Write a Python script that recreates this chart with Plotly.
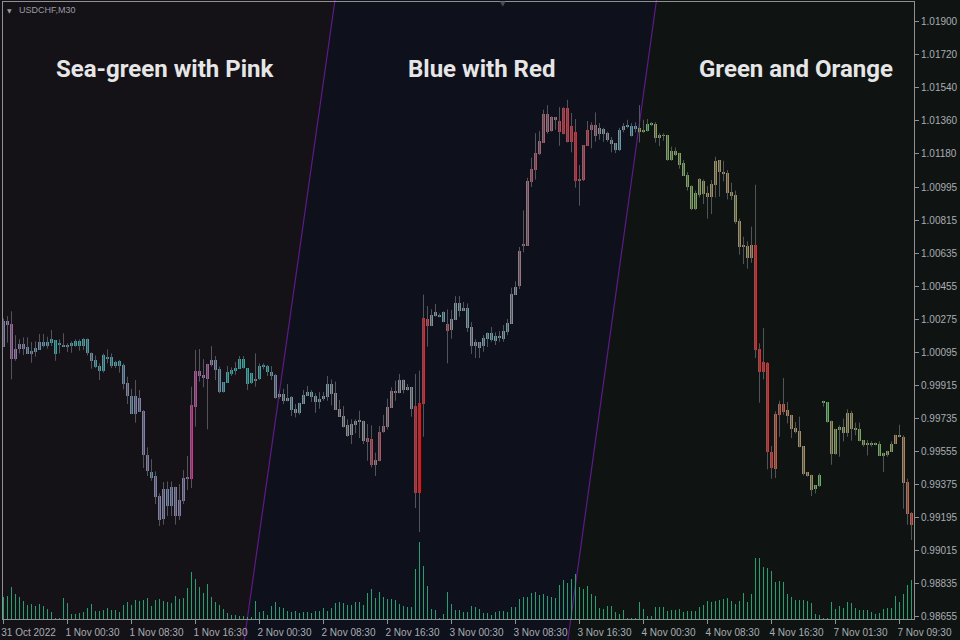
import plotly.graph_objects as go
from plotly.colors import sample_colorscale

# ---------------- data (USDCHF, M30) ----------------
open_ = [1.00127, 1.00265, 1.00250, 1.00061, 1.00112, 1.00141, 1.00127, 1.00087, 1.00098, 1.00109,
         1.00152, 1.00130, 1.00145, 1.00163, 1.00138, 1.00127, 1.00127, 1.00130, 1.00130, 1.00156,
         1.00130, 1.00170, 1.00094, 1.00054, 1.00021, 0.99992, 1.00072, 1.00068, 1.00021, 1.00050,
         1.00028, 0.99927, 0.99857, 0.99759, 0.99846, 0.99774, 0.99533, 0.99442, 0.99421, 0.99311,
         0.99188, 0.99351, 0.99257, 0.99362, 0.99202, 0.99286, 0.99410, 0.99406, 0.99799, 0.99994,
         0.99972, 0.99950, 1.00028, 1.00054, 1.00007, 0.99879, 0.99930, 0.99977, 0.99992, 1.00007,
         1.00061, 1.00010, 0.99930, 0.99945, 0.99948, 1.00018, 1.00021, 0.99988, 0.99974, 0.99854,
         0.99868, 0.99828, 0.99854, 0.99788, 0.99766, 0.99814, 0.99857, 0.99879, 0.99857, 0.99825,
         0.99839, 0.99850, 0.99923, 0.99872, 0.99788, 0.99748, 0.99697, 0.99646, 0.99701, 0.99723,
         0.99723, 0.99628, 0.99621, 0.99479, 0.99504, 0.99661, 0.99690, 0.99792, 0.99887, 0.99876,
         0.99945, 0.99890, 0.99908, 0.99803, 0.99330, 0.99814, 1.00280, 1.00240, 1.00294, 1.00301,
         1.00316, 1.00251, 1.00218, 1.00272, 1.00367, 1.00323, 1.00338, 1.00236, 1.00130, 1.00152,
         1.00129, 1.00169, 1.00201, 1.00158, 1.00176, 1.00169, 1.00209, 1.00252, 1.00409, 1.00460,
         1.00678, 1.00678, 1.01028, 1.01093, 1.01177, 1.01239, 1.01399, 1.01304, 1.01381, 1.01359,
         1.01290, 1.01432, 1.01242, 1.01301, 1.01042, 1.01039, 1.01224, 1.01312, 1.01337, 1.01286,
         1.01315, 1.01293, 1.01253, 1.01239, 1.01202, 1.01308, 1.01326, 1.01330, 1.01315, 1.01319,
         1.01297, 1.01304, 1.01341, 1.01343, 1.01266, 1.01281, 1.01284, 1.01146, 1.01197, 1.01186,
         1.01131, 1.01066, 1.01004, 1.00877, 1.00957, 1.01033, 1.00968, 1.00946, 1.01011, 1.01146,
         1.01080, 1.01077, 1.00971, 1.00957, 1.00815, 1.00673, 1.00676, 1.00611, 1.00684, 1.00116,
         0.99988, 1.00039, 0.99552, 0.99461, 0.99755, 0.99814, 0.99781, 0.99755, 0.99683, 0.99668,
         0.99584, 0.99442, 0.99428, 0.99351, 0.99366, 0.99825, 0.99825, 0.99723, 0.99541, 0.99672,
         0.99690, 0.99657, 0.99763, 0.99675, 0.99679, 0.99617, 0.99592, 0.99603, 0.99592, 0.99595,
         0.99530, 0.99537, 0.99552, 0.99595, 0.99639, 0.99635, 0.99388, 0.99220]

high = [1.00281, 1.00294, 1.00320, 1.00190, 1.00167, 1.00178, 1.00178, 1.00152, 1.00156, 1.00196,
        1.00196, 1.00181, 1.00218, 1.00163, 1.00167, 1.00200, 1.00145, 1.00156, 1.00167, 1.00167,
        1.00174, 1.00172, 1.00095, 1.00079, 1.00036, 1.00090, 1.00112, 1.00090, 1.00050, 1.00054,
        1.00036, 0.99963, 0.99897, 0.99945, 0.99890, 0.99781, 0.99577, 0.99512, 0.99446, 0.99326,
        0.99388, 0.99391, 0.99391, 0.99362, 0.99377, 0.99453, 0.99530, 0.99908, 1.00109, 1.00114,
        1.00059, 1.00034, 1.00130, 1.00076, 1.00018, 0.99934, 1.00021, 1.00014, 1.00043, 1.00076,
        1.00076, 1.00010, 0.99985, 1.00090, 1.00036, 1.00036, 1.00028, 1.00021, 0.99978, 0.99890,
        0.99897, 0.99923, 0.99857, 0.99814, 0.99821, 0.99890, 0.99912, 0.99890, 0.99872, 0.99879,
        0.99879, 0.99967, 0.99948, 0.99937, 0.99836, 0.99803, 0.99730, 0.99730, 0.99730, 0.99777,
        0.99723, 0.99705, 0.99697, 0.99548, 0.99694, 0.99755, 0.99843, 0.99905, 0.99941, 0.99978,
        0.99948, 0.99923, 0.99908, 0.99978, 0.99996, 1.00411, 1.00349, 1.00331, 1.00360, 1.00309,
        1.00320, 1.00331, 1.00327, 1.00403, 1.00403, 1.00371, 1.00363, 1.00261, 1.00167, 1.00152,
        1.00190, 1.00205, 1.00234, 1.00205, 1.00212, 1.00245, 1.00278, 1.00449, 1.00485, 1.00671,
        1.00871, 1.01049, 1.01159, 1.01293, 1.01304, 1.01421, 1.01446, 1.01385, 1.01381, 1.01435,
        1.01435, 1.01475, 1.01403, 1.01370, 1.01119, 1.01228, 1.01359, 1.01352, 1.01406, 1.01348,
        1.01322, 1.01301, 1.01272, 1.01239, 1.01322, 1.01348, 1.01366, 1.01348, 1.01352, 1.01446,
        1.01366, 1.01370, 1.01353, 1.01353, 1.01292, 1.01292, 1.01284, 1.01219, 1.01215, 1.01186,
        1.01146, 1.01080, 1.01008, 1.00979, 1.01048, 1.01040, 1.01004, 1.01037, 1.01164, 1.01146,
        1.01142, 1.01091, 1.01022, 1.00979, 1.00826, 1.00727, 1.00702, 1.00782, 1.01011, 1.00145,
        1.00229, 1.00043, 0.99584, 0.99774, 0.99832, 0.99956, 0.99825, 0.99755, 0.99715, 0.99745,
        0.99584, 0.99442, 0.99428, 0.99370, 0.99435, 0.99832, 0.99825, 0.99723, 0.99679, 0.99697,
        0.99734, 0.99785, 0.99777, 0.99712, 0.99712, 0.99617, 0.99617, 0.99610, 0.99603, 0.99610,
        0.99548, 0.99559, 0.99610, 0.99646, 0.99701, 0.99643, 0.99406, 0.99224]

low = [1.00126, 1.00149, 0.99948, 1.00050, 1.00090, 1.00081, 1.00087, 1.00039, 1.00072, 1.00109,
       1.00123, 1.00116, 1.00130, 1.00050, 1.00090, 1.00127, 1.00098, 1.00094, 1.00127, 1.00105,
       1.00109, 1.00079, 1.00007, 1.00010, 0.99945, 0.99985, 1.00036, 1.00010, 1.00010, 0.99985,
       0.99894, 0.99814, 0.99759, 0.99712, 0.99770, 0.99464, 0.99421, 0.99395, 0.99268, 0.99148,
       0.99155, 0.99202, 0.99202, 0.99155, 0.99180, 0.99268, 0.99344, 0.99355, 0.99690, 0.99936,
       0.99905, 0.99675, 1.00018, 0.99945, 0.99872, 0.99876, 0.99930, 0.99967, 0.99974, 1.00007,
       1.00007, 0.99890, 0.99923, 0.99908, 0.99945, 1.00003, 0.99967, 0.99945, 0.99843, 0.99843,
       0.99814, 0.99828, 0.99748, 0.99741, 0.99755, 0.99814, 0.99857, 0.99825, 0.99766, 0.99788,
       0.99832, 0.99832, 0.99806, 0.99781, 0.99745, 0.99686, 0.99635, 0.99595, 0.99654, 0.99628,
       0.99595, 0.99504, 0.99468, 0.99421, 0.99501, 0.99657, 0.99675, 0.99792, 0.99832, 0.99872,
       0.99872, 0.99887, 0.99745, 0.99246, 0.99115, 0.99635, 1.00127, 1.00240, 1.00291, 1.00287,
       1.00261, 1.00036, 1.00170, 1.00272, 1.00291, 1.00323, 1.00207, 1.00087, 1.00065, 1.00065,
       1.00099, 1.00125, 1.00154, 1.00136, 1.00154, 1.00154, 1.00190, 1.00252, 1.00409, 1.00442,
       1.00642, 1.00678, 1.00999, 1.01039, 1.01173, 1.01239, 1.01290, 1.01301, 1.01312, 1.01224,
       1.01286, 1.01242, 1.01188, 1.00995, 1.00897, 1.01031, 1.01224, 1.01210, 1.01246, 1.01257,
       1.01246, 1.01246, 1.01188, 1.01184, 1.01195, 1.01297, 1.01319, 1.01275, 1.01297, 1.01242,
       1.01293, 1.01301, 1.01332, 1.01241, 1.01222, 1.01252, 1.01142, 1.01142, 1.01168, 1.01099,
       1.01059, 1.00979, 1.00873, 1.00873, 1.00942, 1.00906, 1.00826, 1.00851, 1.00942, 1.00946,
       1.01029, 1.00931, 1.00928, 1.00797, 1.00629, 1.00578, 1.00553, 1.00585, 1.00065, 0.99821,
       0.99948, 0.99457, 0.99406, 0.99410, 0.99635, 0.99755, 0.99708, 0.99628, 0.99654, 0.99577,
       0.99424, 0.99417, 0.99311, 0.99326, 0.99362, 0.99799, 0.99712, 0.99482, 0.99537, 0.99526,
       0.99610, 0.99635, 0.99614, 0.99643, 0.99610, 0.99581, 0.99533, 0.99581, 0.99588, 0.99530,
       0.99442, 0.99526, 0.99552, 0.99595, 0.99632, 0.99242, 0.99155, 0.99071]

close = [1.00269, 1.00247, 1.00061, 1.00112, 1.00141, 1.00112, 1.00087, 1.00105, 1.00119, 1.00152,
         1.00130, 1.00152, 1.00167, 1.00087, 1.00149, 1.00130, 1.00138, 1.00149, 1.00159, 1.00130,
         1.00170, 1.00090, 1.00050, 1.00014, 0.99996, 1.00079, 1.00065, 1.00021, 1.00043, 1.00021,
         0.99923, 0.99857, 0.99759, 0.99857, 0.99770, 0.99533, 0.99450, 0.99410, 0.99308, 0.99180,
         0.99348, 0.99257, 0.99362, 0.99202, 0.99290, 0.99410, 0.99406, 0.99810, 0.99994, 0.99968,
         0.99957, 1.00034, 1.00054, 0.99999, 0.99879, 0.99934, 0.99988, 0.99999, 1.00010, 1.00061,
         1.00010, 0.99923, 0.99985, 0.99948, 1.00021, 1.00028, 0.99988, 0.99967, 0.99846, 0.99868,
         0.99832, 0.99846, 0.99781, 0.99766, 0.99821, 0.99865, 0.99879, 0.99854, 0.99825, 0.99843,
         0.99857, 0.99923, 0.99868, 0.99781, 0.99745, 0.99690, 0.99639, 0.99705, 0.99723, 0.99717,
         0.99614, 0.99606, 0.99482, 0.99508, 0.99661, 0.99694, 0.99799, 0.99887, 0.99876, 0.99945,
         0.99890, 0.99908, 0.99788, 0.99330, 0.99821, 1.00283, 1.00240, 1.00301, 1.00316, 1.00291,
         1.00261, 1.00214, 1.00276, 1.00367, 1.00320, 1.00338, 1.00229, 1.00130, 1.00152, 1.00119,
         1.00172, 1.00201, 1.00161, 1.00183, 1.00187, 1.00212, 1.00256, 1.00412, 1.00453, 1.00649,
         1.00682, 1.01031, 1.01097, 1.01184, 1.01250, 1.01399, 1.01301, 1.01381, 1.01366, 1.01297,
         1.01432, 1.01242, 1.01330, 1.01031, 1.01035, 1.01228, 1.01308, 1.01337, 1.01279, 1.01319,
         1.01290, 1.01257, 1.01235, 1.01202, 1.01308, 1.01330, 1.01337, 1.01279, 1.01330, 1.01297,
         1.01312, 1.01341, 1.01346, 1.01266, 1.01284, 1.01279, 1.01146, 1.01197, 1.01175, 1.01120,
         1.01059, 1.00997, 1.00877, 1.00964, 1.01040, 1.00960, 1.00946, 1.01015, 1.01142, 1.01080,
         1.01070, 1.00968, 1.00949, 1.00807, 1.00673, 1.00676, 1.00611, 1.00684, 1.00109, 0.99988,
         1.00043, 0.99552, 0.99464, 0.99759, 0.99814, 0.99770, 0.99748, 0.99679, 0.99661, 0.99581,
         0.99432, 0.99421, 0.99344, 0.99370, 0.99428, 0.99828, 0.99715, 0.99541, 0.99679, 0.99690,
         0.99657, 0.99763, 0.99675, 0.99683, 0.99610, 0.99588, 0.99603, 0.99592, 0.99603, 0.99530,
         0.99548, 0.99559, 0.99595, 0.99643, 0.99635, 0.99384, 0.99213, 0.99151]

tick_volume = [66, 69, 96, 75, 66, 54, 42, 45, 39, 45, 39, 30, 21, 3, 3, 63, 48, 15, 15, 18,
               21, 33, 45, 24, 24, 27, 33, 27, 27, 21, 42, 51, 42, 57, 54, 57, 63, 39, 57, 60,
               54, 51, 48, 69, 60, 63, 93, 141, 120, 96, 78, 105, 66, 51, 42, 30, 18, 12, 12, 9,
               9, 6, 6, 54, 21, 24, 12, 39, 51, 36, 33, 24, 21, 24, 18, 21, 21, 18, 24, 24,
               33, 24, 33, 48, 51, 48, 42, 42, 51, 51, 42, 78, 90, 63, 81, 66, 60, 60, 57, 45,
               39, 36, 36, 150, 231, 159, 99, 30, 27, 3, 15, 81, 45, 27, 27, 21, 21, 39, 36, 30,
               18, 18, 12, 21, 23, 24, 21, 36, 36, 60, 66, 66, 78, 81, 72, 75, 69, 67, 63, 102,
               117, 109, 120, 135, 96, 90, 99, 75, 69, 33, 30, 39, 39, 21, 15, 27, 3, 2, 2, 51,
               30, 9, 9, 36, 35, 35, 24, 27, 27, 30, 21, 24, 24, 24, 36, 42, 54, 51, 54, 57,
               60, 63, 54, 45, 55, 78, 51, 75, 183, 183, 156, 153, 144, 111, 114, 111, 75, 66, 57, 57,
               57, 54, 48, 15, 11, 2, 2, 51, 30, 39, 33, 51, 47, 33, 27, 27, 27, 21, 15, 18,
               30, 33, 33, 69, 51, 74, 102, 117]

time_labels = ["31 Oct 2022", "1 Nov 00:30", "1 Nov 08:30", "1 Nov 16:30", "2 Nov 00:30",
               "2 Nov 08:30", "2 Nov 16:30", "3 Nov 00:30", "3 Nov 08:30", "3 Nov 16:30",
               "4 Nov 00:30", "4 Nov 08:30", "4 Nov 16:30", "7 Nov 01:30", "7 Nov 09:30"]

price_ticks = [1.01900, 1.01720, 1.01540, 1.01360, 1.01180, 1.00995, 1.00815, 1.00635, 1.00455,
               1.00275, 1.00095, 0.99915, 0.99735, 0.99555, 0.99375, 0.99195, 0.99015, 0.98835,
               0.98655]

region_titles = ["Sea-green with Pink", "Blue with Red", "Green and Orange"]
symbol_label = "USDCHF,M30"

# ---------------- layout constants ----------------
W, H = 960, 640
ML, MR, MT, MB = 3, 46, 2, 21
PW, PH = W - ML - MR, H - MT - MB
N = len(open_)
X_RANGE = [-0.125, -0.125 + PW / 4.0]
Y_RANGE = [0.98640, 1.02009]

def px2paper_x(px):
    return (px - ML) / PW

def py2paper_y(py):
    return (H - MB - py) / PH

# diagonal region dividers (image pixel positions at top and bottom of the picture)
div1 = (335.0, 244.3)
div2 = (656.5, 567.9)
y_top, y_bot = py2paper_y(0), py2paper_y(H)

def divider_x(div, yp):
    xt, xb = px2paper_x(div[0]), px2paper_x(div[1])
    return xb + (xt - xb) * (yp - y_bot) / (y_top - y_bot)

scales = [
    [[0.0, "#2aa8a2"], [0.15, "#4a9aa8"], [0.3, "#7a80a6"], [0.45, "#8a7aa6"], [0.7, "#a8589a"],
     [1.0, "#d2318c"]],
    [[0.0, "#5c9ea8"], [0.1, "#7f9298"], [0.2, "#8d8a8e"], [0.35, "#a85a68"], [0.55, "#d23440"],
     [0.8, "#e0242c"], [1.0, "#ff0a0a"]],
    [[0.0, "#5fb35c"], [0.1, "#7ca456"], [0.25, "#979358"], [0.35, "#a68a5c"], [0.5, "#b67a52"],
     [0.7, "#c85a40"], [1.0, "#e62a2a"]],
]
vol_lo = [10, 10, 10]
vol_hi = [150, 200, 160]

xs = list(range(N))
colors, bases, heights = [], [], []
min_h = 0.00005
for i in xs:
    o, c = open_[i], close[i]
    mid = (high[i] + low[i]) / 2
    xp = (i - X_RANGE[0]) / (X_RANGE[1] - X_RANGE[0])
    yp = (mid - Y_RANGE[0]) / (Y_RANGE[1] - Y_RANGE[0])
    if xp < divider_x(div1, yp):
        r = 0
    elif xp < divider_x(div2, yp):
        r = 1
    else:
        r = 2
    t = (tick_volume[i] - vol_lo[r]) / (vol_hi[r] - vol_lo[r])
    t = max(0.0, min(1.0, t))
    colors.append(sample_colorscale(scales[r], [t])[0])
    lo_b, hi_b = min(o, c), max(o, c)
    if hi_b - lo_b < min_h:
        m = (hi_b + lo_b) / 2
        lo_b, hi_b = m - min_h / 2, m + min_h / 2
    bases.append(lo_b)
    heights.append(hi_b - lo_b)

wx, wy = [], []
for i in xs:
    wx += [i, i, None]
    wy += [low[i], high[i], None]

fig = go.Figure()
fig.add_trace(go.Bar(x=xs, y=tick_volume, width=0.25, marker=dict(color="#26a06e", line=dict(width=0)),
                     yaxis="y", hoverinfo="skip", showlegend=False))
fig.add_trace(go.Scatter(x=wx, y=wy, mode="lines", line=dict(color="#51545b", width=1),
                         yaxis="y2", hoverinfo="skip", showlegend=False))
fig.add_trace(go.Bar(x=xs, y=heights, base=bases, width=0.75,
                     marker=dict(color=colors, line=dict(width=0)),
                     yaxis="y2", showlegend=False))

axis_col = "#8e9094"
lab_font = dict(family="Liberation Sans, Arial, sans-serif", size=10, color="#a9adb2")

shapes = [
    dict(type="path", xref="paper", yref="paper", layer="below",
         path=f"M {px2paper_x(0)} {y_top} L {px2paper_x(div1[0])} {y_top} L {px2paper_x(div1[1])} {y_bot} "
              f"L {px2paper_x(0)} {y_bot} Z",
         fillcolor="#141117", line=dict(width=0)),
    dict(type="path", xref="paper", yref="paper", layer="below",
         path=f"M {px2paper_x(div1[0])} {y_top} L {px2paper_x(div2[0])} {y_top} L {px2paper_x(div2[1])} {y_bot} "
              f"L {px2paper_x(div1[1])} {y_bot} Z",
         fillcolor="#0e101c", line=dict(width=0)),
    dict(type="line", xref="paper", yref="paper", layer="below",
         x0=px2paper_x(div1[0]), y0=y_top, x1=px2paper_x(div1[1]), y1=y_bot,
         line=dict(color="#5f1a86", width=1.2)),
    dict(type="line", xref="paper", yref="paper", layer="below",
         x0=px2paper_x(div2[0]), y0=y_top, x1=px2paper_x(div2[1]), y1=y_bot,
         line=dict(color="#5f1a86", width=1.2)),
]

title_x = [165, 481, 796]
annotations = []
for tx, txt in zip(title_x, region_titles):
    annotations.append(dict(xref="paper", yref="paper", x=px2paper_x(tx), y=py2paper_y(69),
                            text=txt, showarrow=False, xanchor="center", yanchor="middle",
                            font=dict(family="Roboto, Inter, sans-serif", size=24, color="#e6e6e6",
                                      weight=700)))
annotations.append(dict(xref="paper", yref="paper", x=px2paper_x(17), y=py2paper_y(10),
                        text=symbol_label, showarrow=False, xanchor="left", yanchor="middle",
                        font=dict(family="Liberation Sans, Arial, sans-serif", size=9, color="#9a9ca0")))
annotations.append(dict(xref="paper", yref="paper", x=px2paper_x(9), y=py2paper_y(10),
                        text="▼", showarrow=False, xanchor="center", yanchor="middle",
                        font=dict(family="DejaVu Sans", size=6, color="#9a9ca0")))
annotations.append(dict(xref="paper", yref="paper", x=px2paper_x(503), y=py2paper_y(4),
                        text="▼", showarrow=False, xanchor="center", yanchor="middle",
                        font=dict(family="DejaVu Sans", size=7, color="#4a4c52")))

fig.update_layout(
    width=W, height=H,
    margin=dict(l=ML, r=MR, t=MT, b=MB, pad=0),
    paper_bgcolor="#0f1413", plot_bgcolor="rgba(0,0,0,0)",
    barmode="overlay", bargap=0, showlegend=False,
    xaxis=dict(range=X_RANGE, tickvals=list(range(0, N, 16)), ticktext=time_labels,
               showgrid=False, zeroline=False, showline=True, linecolor=axis_col, linewidth=1,
               mirror=True, ticks="outside", ticklen=4, tickcolor=axis_col, tickfont=lab_font,
               ticklabelshift=25, fixedrange=True),
    yaxis=dict(range=[0, max(tick_volume) * 8], visible=False, fixedrange=True),
    yaxis2=dict(overlaying="y", side="right", range=Y_RANGE, tickvals=price_ticks,
                ticktext=[f"{v:.5f}" for v in price_ticks],
                showgrid=False, zeroline=False, showline=True, linecolor=axis_col, linewidth=1,
                mirror=True, ticks="outside", ticklen=4, tickcolor=axis_col, tickfont=lab_font,
                fixedrange=True),
    shapes=shapes, annotations=annotations,
)

fig.write_html("out.html", config={"displayModeBar": False},
               post_script="document.body.style.margin='0';document.body.style.background='#0f1413';")
